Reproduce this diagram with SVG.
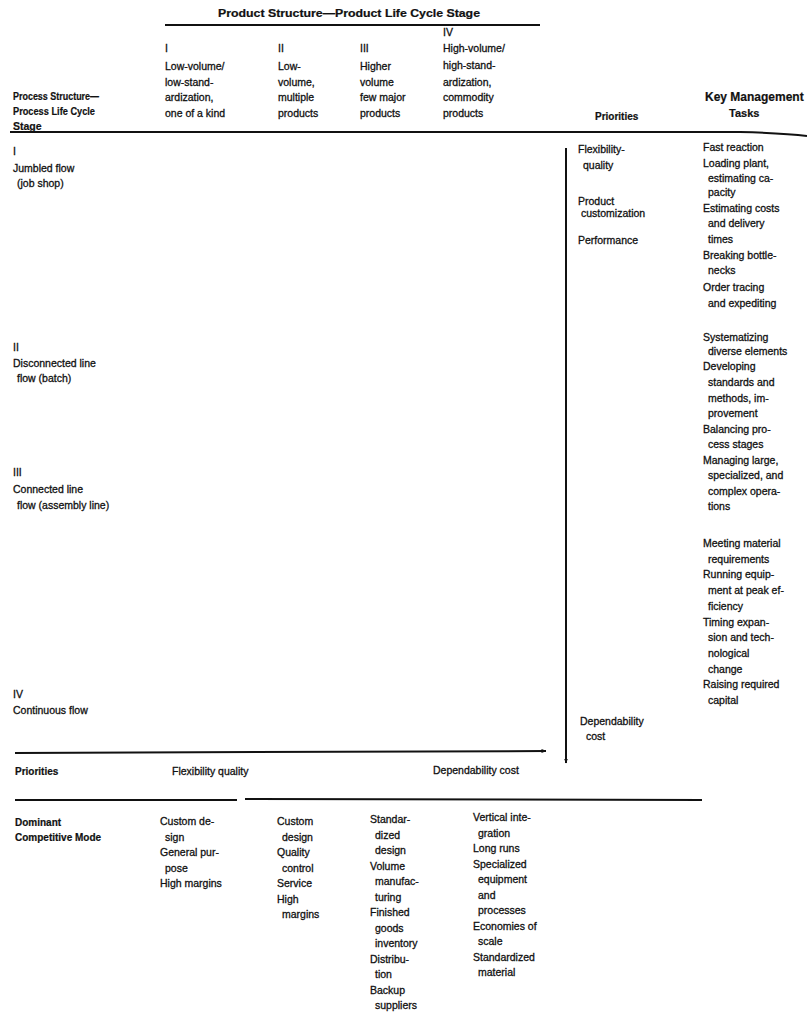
<svg xmlns="http://www.w3.org/2000/svg" width="807" height="1019" viewBox="0 0 807 1019">
<style>
text{font-family:"Liberation Sans",Arial,sans-serif;font-size:10.5px;fill:#111;stroke:#111;stroke-width:0.3}
.b{font-weight:bold;font-size:10px;stroke-width:0.2}
.ln{stroke:#111;stroke-width:2;fill:none}
.ar{stroke:#111;stroke-width:2;fill:none}
</style>
<defs>
<marker id="ah" viewBox="0 0 10 10" refX="9" refY="5" markerWidth="5" markerHeight="5" orient="auto" markerUnits="userSpaceOnUse">
<path d="M0,1 L10,5 L0,9 Z" fill="#111"/>
</marker>
</defs>
<rect width="807" height="1019" fill="#fff"/>

<g id="header">
<text class="b" x="218" y="17" textLength="262" lengthAdjust="spacingAndGlyphs">Product Structure—Product Life Cycle Stage</text>
<text class="b" style="font-size:10.5px"><tspan x="13" y="100" textLength="86" lengthAdjust="spacingAndGlyphs">Process Structure—</tspan></text>
<text class="b" style="font-size:10.5px"><tspan x="13" y="115" textLength="82" lengthAdjust="spacingAndGlyphs">Process Life Cycle</tspan></text>
<text class="b" style="font-size:10.5px"><tspan x="13" y="130">Stage</tspan></text>
<text x="165"><tspan x="165" y="52">I</tspan><tspan x="165" y="70">Low-volume/</tspan><tspan x="165" y="86">low-stand-</tspan><tspan x="165" y="101">ardization,</tspan><tspan x="165" y="117">one of a kind</tspan></text>
<text x="278"><tspan x="278" y="52">II</tspan><tspan x="278" y="70">Low-</tspan><tspan x="278" y="86">volume,</tspan><tspan x="278" y="101">multiple</tspan><tspan x="278" y="117">products</tspan></text>
<text x="360"><tspan x="360" y="52">III</tspan><tspan x="360" y="70">Higher</tspan><tspan x="360" y="86">volume</tspan><tspan x="360" y="101">few major</tspan><tspan x="360" y="117">products</tspan></text>
<text x="443"><tspan x="443" y="36">IV</tspan><tspan x="443" y="52">High-volume/</tspan><tspan x="443" y="69">high-stand-</tspan><tspan x="443" y="86">ardization,</tspan><tspan x="443" y="101">commodity</tspan><tspan x="443" y="117">products</tspan></text>
<text class="b" x="595" y="120">Priorities</text>
<text class="b" x="705" y="101" style="font-size:12px">Key Management</text>
<text class="b" x="729" y="117" style="font-size:11px">Tasks</text>
</g>

<g id="process-stages">
<text><tspan x="13" y="155">I</tspan><tspan x="13" y="172">Jumbled flow</tspan><tspan x="17" y="187">(job shop)</tspan></text>
<text><tspan x="13" y="351">II</tspan><tspan x="13" y="367">Disconnected line</tspan><tspan x="17" y="382">flow (batch)</tspan></text>
<text><tspan x="13" y="476">III</tspan><tspan x="13" y="493">Connected line</tspan><tspan x="17" y="509">flow (assembly line)</tspan></text>
<text><tspan x="13" y="698">IV</tspan><tspan x="13" y="714">Continuous flow</tspan></text>
</g>

<g id="priorities">
<text><tspan x="578" y="153">Flexibility-</tspan><tspan x="583" y="169">quality</tspan></text>
<text><tspan x="578" y="205">Product</tspan><tspan x="581" y="217">customization</tspan></text>
<text x="578" y="244">Performance</text>
<text><tspan x="580" y="725">Dependability</tspan><tspan x="586" y="740">cost</tspan></text>
</g>

<g id="tasks">
<text><tspan x="703" y="151">Fast reaction</tspan><tspan x="703" y="167">Loading plant,</tspan><tspan x="708" y="182">estimating ca-</tspan><tspan x="708" y="196">pacity</tspan><tspan x="703" y="212">Estimating costs</tspan><tspan x="708" y="227">and delivery</tspan><tspan x="708" y="243">times</tspan><tspan x="703" y="259">Breaking bottle-</tspan><tspan x="708" y="274">necks</tspan><tspan x="703" y="291">Order tracing</tspan><tspan x="708" y="307">and expediting</tspan></text>
<text><tspan x="703" y="341">Systematizing</tspan><tspan x="708" y="355">diverse elements</tspan><tspan x="703" y="370">Developing</tspan><tspan x="708" y="386">standards and</tspan><tspan x="708" y="402">methods, im-</tspan><tspan x="708" y="417">provement</tspan><tspan x="703" y="433">Balancing pro-</tspan><tspan x="708" y="448">cess stages</tspan><tspan x="703" y="464">Managing large,</tspan><tspan x="708" y="479">specialized, and</tspan><tspan x="708" y="495">complex opera-</tspan><tspan x="708" y="510">tions</tspan></text>
<text><tspan x="703" y="547">Meeting material</tspan><tspan x="708" y="563">requirements</tspan><tspan x="703" y="578">Running equip-</tspan><tspan x="708" y="594">ment at peak ef-</tspan><tspan x="708" y="610">ficiency</tspan><tspan x="703" y="626">Timing expan-</tspan><tspan x="708" y="641">sion and tech-</tspan><tspan x="708" y="657">nological</tspan><tspan x="708" y="673">change</tspan><tspan x="703" y="688">Raising required</tspan><tspan x="708" y="704">capital</tspan></text>
</g>

<g id="bottom-priorities">
<text class="b" x="15" y="775">Priorities</text>
<text x="172" y="775">Flexibility quality</text>
<text x="433" y="774">Dependability cost</text>
</g>

<g id="competitive-mode">
<text class="b"><tspan x="15" y="826">Dominant</tspan><tspan x="15" y="841">Competitive Mode</tspan></text>
<text><tspan x="160" y="825">Custom de-</tspan><tspan x="165" y="841">sign</tspan><tspan x="160" y="856">General pur-</tspan><tspan x="165" y="872">pose</tspan><tspan x="160" y="887">High margins</tspan></text>
<text><tspan x="277" y="825">Custom</tspan><tspan x="282" y="841">design</tspan><tspan x="277" y="856">Quality</tspan><tspan x="282" y="872">control</tspan><tspan x="277" y="887">Service</tspan><tspan x="277" y="903">High</tspan><tspan x="282" y="918">margins</tspan></text>
<text><tspan x="370" y="823">Standar-</tspan><tspan x="375" y="839">dized</tspan><tspan x="375" y="854">design</tspan><tspan x="370" y="870">Volume</tspan><tspan x="375" y="885">manufac-</tspan><tspan x="375" y="901">turing</tspan><tspan x="370" y="916">Finished</tspan><tspan x="375" y="932">goods</tspan><tspan x="375" y="947">inventory</tspan><tspan x="370" y="963">Distribu-</tspan><tspan x="375" y="978">tion</tspan><tspan x="370" y="994">Backup</tspan><tspan x="375" y="1009">suppliers</tspan></text>
<text><tspan x="473" y="821">Vertical inte-</tspan><tspan x="478" y="837">gration</tspan><tspan x="473" y="852">Long runs</tspan><tspan x="473" y="868">Specialized</tspan><tspan x="478" y="883">equipment</tspan><tspan x="478" y="899">and</tspan><tspan x="478" y="914">processes</tspan><tspan x="473" y="930">Economies of</tspan><tspan x="478" y="945">scale</tspan><tspan x="473" y="961">Standardized</tspan><tspan x="478" y="976">material</tspan></text>
</g>

<g id="connectors">
<line class="ln" x1="165" y1="25" x2="540" y2="25"/>
<path class="ln" d="M10,132 L740,132 Q785,133 807,136"/>
<line class="ln" x1="15" y1="800" x2="237" y2="800"/>
<line class="ln" x1="245" y1="799" x2="702" y2="800"/>
<line class="ar" x1="15" y1="753" x2="546" y2="751" marker-end="url(#ah)"/>
<line class="ar" x1="566" y1="148" x2="566" y2="763" marker-end="url(#ah)"/>
</g>
</svg>
